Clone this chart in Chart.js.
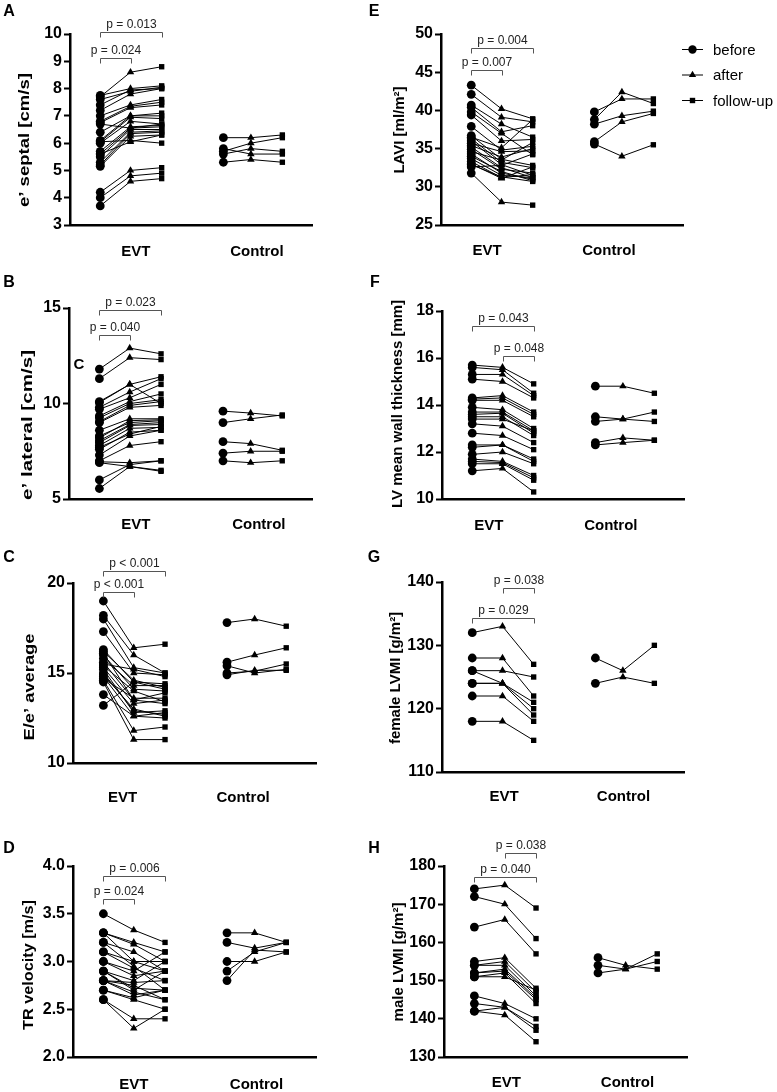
<!DOCTYPE html>
<html>
<head>
<meta charset="utf-8">
<title>Echo parameters before / after / follow-up</title>
<script src="https://cdn.jsdelivr.net/npm/chart.js@4.4.1/dist/chart.umd.min.js"></script>
<style>
  html, body { margin: 0; padding: 0; background: #fff; }
  body { width: 777px; height: 1092px; position: relative; overflow: hidden; }
  canvas { position: absolute; }
</style>
</head>
<body>
<script>
const groups = ['EVT', 'Control'];
const timepoints = ['before', 'after', 'follow-up'];
const pointStyles = ['circle', 'triangle', 'rect'];
const evtX = [1, 2, 3.03];
const ctrlX = [5.07, 5.98, 7.02];

// A - e' septal
const septalEvtBefore = [7.7, 7.75, 7.6, 7.4, 7.2, 7.0, 6.8, 6.75, 6.4, 6.1, 6.05, 6.0, 5.7, 5.6, 5.5, 5.3, 5.2, 5.15, 6.05, 5.6, 4.2, 4.0, 3.7, 6.7];
const septalEvtAfter = [8.6, 8.0, 7.9, 7.95, 7.8, 7.4, 7.35, 7.3, 7.0, 7.0, 6.95, 6.8, 6.6, 6.55, 6.5, 6.4, 6.35, 6.25, 6.1, 6.05, 5.0, 4.8, 4.6, 6.55];
const septalEvtFollow = [8.8, 8.1, 8.05, 8.0, 8.0, 7.6, 7.5, 7.4, 7.1, 7.0, 6.9, 6.7, 6.65, 6.6, 6.5, 6.45, 6.4, 6.3, 6.0, 6.3, 5.1, 4.9, 4.7, 6.7];
const septalCtrlBefore = [6.2, 5.7, 5.8, 5.6, 5.3];
const septalCtrlAfter = [6.2, 6.0, 5.6, 5.8, 5.4];
const septalCtrlFollow = [6.3, 6.2, 5.6, 5.7, 5.3];
const septalTicks = [3, 4, 5, 6, 7, 8, 9, 10];

// B - e' lateral
const lateralEvtBefore = [11.8, 11.3, 10.1, 10.05, 9.8, 9.7, 9.35, 9.25, 9.05, 9.0, 8.6, 8.3, 8.05, 7.95, 7.8, 7.6, 7.3, 7.0, 6.95, 6.0, 5.55, 8.2, 7.7, 6.9];
const lateralEvtAfter = [12.9, 12.4, 11.0, 11.0, 10.6, 10.3, 10.1, 10.0, 9.9, 9.8, 9.2, 9.0, 8.9, 8.85, 8.7, 8.5, 8.3, 7.8, 6.9, 6.8, 6.7, 9.1, 8.4, 6.7];
const lateralEvtFollow = [12.6, 12.3, 11.4, 10.0, 11.3, 11.0, 10.5, 10.2, 10.1, 9.9, 9.2, 9.1, 9.0, 8.9, 8.75, 8.6, 8.6, 8.0, 7.0, 7.0, 6.5, 9.15, 8.8, 6.45];
const lateralCtrlBefore = [9.6, 9.0, 8.0, 7.4, 7.0];
const lateralCtrlAfter = [9.5, 9.2, 7.9, 7.5, 6.9];
const lateralCtrlFollow = [9.35, 9.4, 7.55, 7.5, 7.0];
const lateralTicks = [5, 10, 15];

// C - E/e' average
const ratioEvtBefore = [19.0, 18.2, 18.0, 17.3, 16.3, 16.2, 16.0, 15.8, 15.6, 15.4, 15.3, 15.2, 15.0, 14.9, 14.8, 14.6, 14.5, 13.8, 13.2, 16.1, 15.5, 14.7];
const ratioEvtAfter = [16.4, 16.0, 15.3, 15.0, 14.5, 14.6, 14.1, 14.3, 13.5, 14.0, 13.3, 12.8, 12.9, 13.0, 12.6, 11.8, 11.3, 12.6, 14.5, 13.5, 15.2, 13.6];
const ratioEvtFollow = [16.6, 15.0, 15.0, 14.9, 14.4, 14.2, 14.0, 14.3, 13.9, 13.4, 13.5, 12.9, 12.7, 12.6, 12.8, 12.0, 11.3, 12.5, 14.1, 13.3, 14.8, 13.6];
const ratioCtrlBefore = [17.8, 15.6, 15.4, 15.0, 14.9];
const ratioCtrlAfter = [18.0, 16.0, 15.0, 15.1, 15.15];
const ratioCtrlFollow = [17.6, 16.4, 15.2, 15.5, 15.15];
const ratioTicks = [10, 15, 20];

// D - TR velocity
const trEvtBefore = [3.5, 3.3, 3.3, 3.2, 3.1, 3.1, 3.0, 3.0, 2.9, 2.9, 2.9, 2.8, 2.8, 2.8, 2.7, 2.7, 2.6, 2.6, 3.3, 3.2, 2.8];
const trEvtAfter = [3.33, 3.2, 3.18, 3.1, 3.0, 2.93, 2.9, 2.85, 2.8, 2.72, 2.7, 2.78, 2.68, 2.65, 2.6, 2.62, 2.4, 2.3, 3.0, 2.95, 2.75];
const trEvtFollow = [3.2, 3.1, 3.0, 2.9, 3.0, 2.8, 3.1, 2.9, 3.0, 2.7, 2.9, 2.8, 2.6, 2.7, 2.5, 2.7, 2.4, 2.5, 2.9, 2.7, 2.6];
const trCtrlBefore = [3.3, 3.2, 3.0, 2.9, 2.8];
const trCtrlAfter = [3.3, 3.14, 3.0, 3.1, 3.12];
const trCtrlFollow = [3.2, 3.2, 3.1, 3.2, 3.1];
const trTicks = [2.0, 2.5, 3.0, 3.5, 4.0];

// E - LAVI
const laviEvtBefore = [43.3, 42.1, 40.7, 40.4, 39.8, 39.4, 37.9, 36.7, 36.5, 36.3, 36.0, 35.7, 35.4, 35.2, 34.9, 34.6, 34.3, 34.0, 33.7, 33.3, 33.0, 32.6, 31.8, 32.9];
const laviEvtAfter = [40.2, 39.1, 38.2, 37.2, 37.0, 36.0, 34.8, 33.6, 35.1, 33.2, 32.9, 34.6, 33.9, 32.5, 32.3, 33.5, 31.8, 32.0, 31.5, 31.2, 31.1, 32.8, 28.0, 31.3];
const laviEvtFollow = [38.9, 38.5, 36.5, 38.0, 34.2, 36.2, 35.3, 32.8, 38.8, 32.5, 31.5, 34.7, 35.0, 31.2, 31.8, 35.8, 31.0, 30.8, 31.2, 31.6, 32.6, 34.3, 27.6, 30.7];
const laviCtrlBefore = [39.8, 38.8, 38.2, 35.9, 35.6];
const laviCtrlAfter = [41.5, 42.4, 39.3, 38.5, 34.0];
const laviCtrlFollow = [41.5, 40.9, 39.9, 39.6, 35.5];
const laviTicks = [25, 30, 35, 40, 45, 50];

// F - LV mean wall thickness
const wallEvtBefore = [15.7, 15.6, 15.3, 15.1, 14.3, 14.25, 14.2, 13.9, 13.7, 13.6, 13.5, 13.4, 13.2, 12.8, 12.3, 12.2, 11.9, 11.7, 11.6, 11.5, 11.2];
const wallEvtAfter = [15.6, 15.5, 15.3, 15.0, 14.4, 14.3, 14.2, 13.8, 13.7, 13.65, 13.5, 13.4, 13.1, 12.7, 12.3, 12.3, 12.0, 11.6, 11.55, 11.5, 11.3];
const wallEvtFollow = [14.9, 14.5, 14.4, 14.3, 13.7, 13.6, 13.5, 13.0, 12.9, 12.8, 12.7, 12.9, 12.4, 12.1, 11.7, 11.6, 11.5, 11.0, 10.9, 10.8, 10.3];
const wallCtrlBefore = [14.8, 13.5, 13.3, 12.4, 12.3];
const wallCtrlAfter = [14.8, 13.4, 13.4, 12.6, 12.4];
const wallCtrlFollow = [14.5, 13.3, 13.7, 12.5, 12.5];
const wallTicks = [10, 12, 14, 16, 18];

// G - female LVMI
const femaleEvtBefore = [132, 128, 126, 126, 124, 124, 122, 118];
const femaleEvtAfter = [133, 128, 126, 124, 124, 124, 122, 118];
const femaleEvtFollow = [127, 122, 125, 121, 120, 119, 118, 115];
const femaleCtrlBefore = [128, 124];
const femaleCtrlAfter = [126, 125];
const femaleCtrlFollow = [130, 124];
const femaleTicks = [110, 120, 130, 140];

// H - male LVMI
const maleEvtBefore = [174, 172, 164, 155, 154, 154, 152, 152, 151, 151, 146, 144, 142, 142];
const maleEvtAfter = [175, 170, 166, 156, 155, 154, 153, 152.5, 152, 151, 144, 143, 143, 141];
const maleEvtFollow = [169, 161, 157, 148, 147, 146, 145.5, 145, 144, 147.5, 140, 138, 137, 134];
const maleCtrlBefore = [156, 154, 152];
const maleCtrlAfter = [154, 153, 153];
const maleCtrlFollow = [153, 155, 157];
const maleTicks = [130, 140, 150, 160, 170, 180];

const FONT = 'Arial, "Liberation Sans", Helvetica, sans-serif';
Chart.defaults.font.family = FONT;
Chart.defaults.color = '#000';

// area = [left, top, right, bottom] of the plot box on the page
// titlePos = [centre x, centre y, stretched length or 0]
const panels = [
  { letter: 'A', letterPos: [9, 12], area: [70, 34, 312, 225], title: 'e’ septal [cm/s]', titlePos: [25, 140, 134],
    ticks: septalTicks, labelX: [2.18, 6.18], labelPad: 18,
    evt: [septalEvtBefore, septalEvtAfter, septalEvtFollow], ctrl: [septalCtrlBefore, septalCtrlAfter, septalCtrlFollow],
    brackets: [{ from: 0, to: 2, y: 10.07, text: 'p = 0.013' }, { from: 0, to: 1, y: 9.12, text: 'p = 0.024' }] },
  { letter: 'B', letterPos: [9, 283], area: [69, 308, 312, 499], title: 'e’ lateral [cm/s]', titlePos: [28, 425, 150],
    ticks: lateralTicks, labelX: [2.2, 6.25], labelPad: 17, extraText: { text: 'C', x: 79, y: 365 },
    evt: [lateralEvtBefore, lateralEvtAfter, lateralEvtFollow], ctrl: [lateralCtrlBefore, lateralCtrlAfter, lateralCtrlFollow],
    brackets: [{ from: 0, to: 2, y: 14.9, text: 'p = 0.023' }, { from: 0, to: 1, y: 13.59, text: 'p = 0.040' }] },
  { letter: 'C', letterPos: [9, 558], area: [73, 583, 316, 763], title: 'E/e’ average', titlePos: [30, 687, 107],
    ticks: ratioTicks, labelX: [1.63, 5.6], labelPad: 26,
    evt: [ratioEvtBefore, ratioEvtAfter, ratioEvtFollow], ctrl: [ratioCtrlBefore, ratioCtrlAfter, ratioCtrlFollow],
    brackets: [{ from: 0, to: 2, y: 20.68, text: 'p < 0.001' }, { from: 0, to: 1, y: 19.52, text: 'p < 0.001' }] },
  { letter: 'D', letterPos: [9, 849], area: [73, 866, 316, 1057], title: 'TR velocity [m/s]', titlePos: [29, 965, 130],
    ticks: trTicks, decimals: 1, labelX: [2.0, 6.04], labelPad: 19,
    evt: [trEvtBefore, trEvtAfter, trEvtFollow], ctrl: [trCtrlBefore, trCtrlAfter, trCtrlFollow],
    brackets: [{ from: 0, to: 2, y: 3.895, text: 'p = 0.006' }, { from: 0, to: 1, y: 3.654, text: 'p = 0.024' }] },
  { letter: 'E', letterPos: [374, 12], area: [441, 34, 683, 225], title: 'LAVI [ml/m²]', titlePos: [400, 130, 0],
    ticks: laviTicks, labelX: [1.52, 5.55], labelPad: 17, legend: true,
    evt: [laviEvtBefore, laviEvtAfter, laviEvtFollow], ctrl: [laviCtrlBefore, laviCtrlAfter, laviCtrlFollow],
    brackets: [{ from: 0, to: 2, y: 48.2, text: 'p = 0.004' }, { from: 0, to: 1, y: 45.29, text: 'p = 0.007' }] },
  { letter: 'F', letterPos: [375, 283], area: [442, 311, 684, 499], title: 'LV mean wall thickness [mm]', titlePos: [398, 404, 0],
    ticks: wallTicks, labelX: [1.55, 5.58], labelPad: 18,
    evt: [wallEvtBefore, wallEvtAfter, wallEvtFollow], ctrl: [wallCtrlBefore, wallCtrlAfter, wallCtrlFollow],
    brackets: [{ from: 0, to: 2, y: 17.36, text: 'p = 0.043' }, { from: 1, to: 2, y: 16.1, text: 'p = 0.048' }] },
  { letter: 'G', letterPos: [374, 558], area: [442, 582, 684, 772], title: 'female LVMI [g/m²]', titlePos: [396, 678, 0],
    ticks: femaleTicks, labelX: [2.05, 6.0], labelPad: 16,
    evt: [femaleEvtBefore, femaleEvtAfter, femaleEvtFollow], ctrl: [femaleCtrlBefore, femaleCtrlAfter, femaleCtrlFollow],
    brackets: [{ from: 1, to: 2, y: 139.07, text: 'p = 0.038' }, { from: 0, to: 2, y: 134.37, text: 'p = 0.029' }] },
  { letter: 'H', letterPos: [374, 849], area: [444, 866, 687, 1057], title: 'male LVMI [g/m²]', titlePos: [399, 962, 0],
    ticks: maleTicks, labelX: [2.05, 6.04], labelPad: 17,
    evt: [maleEvtBefore, maleEvtAfter, maleEvtFollow], ctrl: [maleCtrlBefore, maleCtrlAfter, maleCtrlFollow],
    brackets: [{ from: 1, to: 2, y: 183.3, text: 'p = 0.038' }, { from: 0, to: 2, y: 177.2, text: 'p = 0.040' }] }
];

function drawMarker(ctx, style, x, y) {
  ctx.beginPath();
  if (style === 'circle') {
    ctx.arc(x, y, 4.2, 0, Math.PI * 2);
  } else if (style === 'triangle') {
    ctx.moveTo(x, y - 4.2);
    ctx.lineTo(x + 3.64, y + 2.1);
    ctx.lineTo(x - 3.64, y + 2.1);
    ctx.closePath();
  } else {
    ctx.rect(x - 2.7, y - 2.7, 5.4, 5.4);
  }
  ctx.fill();
}

// y titles, significance brackets, panel letters and the side legend
const annotatePlugin = {
  id: 'annotate',
  afterDraw(chart, args, opts) {
    const ctx = chart.ctx;
    const xs = chart.scales.x, ys = chart.scales.y;
    const ox = opts.ox, oy = opts.oy;
    ctx.save();

    // axis title (drawn here so long titles are not squeezed to the axis height)
    ctx.save();
    ctx.translate(opts.titlePos[0] - ox, opts.titlePos[1] - oy);
    ctx.rotate(-Math.PI / 2);
    ctx.font = 'bold 15px ' + FONT;
    const w = ctx.measureText(opts.title).width;
    if (opts.titlePos[2]) ctx.scale(opts.titlePos[2] / w, 1);
    ctx.fillStyle = '#000';
    ctx.textAlign = 'center';
    ctx.textBaseline = 'middle';
    ctx.fillText(opts.title, 0, 0);
    ctx.restore();

    (opts.brackets || []).forEach(b => {
      const x1 = Math.round(xs.getPixelForValue(evtX[b.from])) + 0.5;
      const x2 = Math.round(xs.getPixelForValue(evtX[b.to])) + 0.5;
      const y = Math.round(ys.getPixelForValue(b.y)) + 0.5;
      ctx.strokeStyle = '#555';
      ctx.lineWidth = 1;
      ctx.beginPath();
      ctx.moveTo(x1, y + 5);
      ctx.lineTo(x1, y);
      ctx.lineTo(x2, y);
      ctx.lineTo(x2, y + 5);
      ctx.stroke();
      ctx.fillStyle = '#222';
      ctx.font = '12px ' + FONT;
      ctx.textAlign = 'center';
      ctx.textBaseline = 'alphabetic';
      ctx.fillText(b.text, (x1 + x2) / 2, y - 5);
    });

    ctx.fillStyle = '#000';
    ctx.textAlign = 'center';
    ctx.textBaseline = 'middle';
    ctx.font = 'bold 16px ' + FONT;
    ctx.fillText(opts.letter, opts.letterPos[0] - ox, opts.letterPos[1] - oy);
    if (opts.extraText) {
      ctx.font = 'bold 15px ' + FONT;
      ctx.fillText(opts.extraText.text, opts.extraText.x - ox, opts.extraText.y - oy);
    }

    if (opts.legend) {
      const rows = [49.5, 75, 100.5];
      ctx.font = '15px ' + FONT;
      ctx.textAlign = 'left';
      timepoints.forEach((t, i) => {
        const y = rows[i] - oy;
        ctx.strokeStyle = '#000';
        ctx.lineWidth = 1;
        ctx.beginPath();
        ctx.moveTo(682 - ox, y);
        ctx.lineTo(703 - ox, y);
        ctx.stroke();
        ctx.fillStyle = '#000';
        drawMarker(ctx, pointStyles[i], 692.5 - ox, y);
        ctx.fillText(t, 713 - ox, y + 1);
      });
    }
    ctx.restore();
  }
};

function subjectDatasets(series, xpos) {
  const sets = [];
  for (let i = 0; i < series[0].length; i++) {
    sets.push({
      data: series.map((s, k) => ({ x: xpos[k], y: s[i] })),
      showLine: true,
      borderColor: '#000',
      borderWidth: 1,
      backgroundColor: '#000',
      pointBackgroundColor: '#000',
      pointBorderWidth: 0,
      pointStyle: pointStyles,
      pointRadius: [4.4, 4.3, 3.8],
      clip: false
    });
  }
  return sets;
}

panels.forEach(p => {
  const [l, t, r, b] = p.area;
  const padRight = p.legend ? 777 - r : 12;
  const left0 = l - 80, top0 = t - 40;
  const cv = document.createElement('canvas');
  cv.width = r - l + 80 + padRight;
  cv.height = b - t + 40 + 40;
  cv.style.left = left0 + 'px';
  cv.style.top = top0 + 'px';
  document.body.appendChild(cv);

  const yMin = p.ticks[0], yMax = p.ticks[p.ticks.length - 1];

  new Chart(cv.getContext('2d'), {
    type: 'scatter',
    data: {
      datasets: subjectDatasets(p.evt, evtX).concat(subjectDatasets(p.ctrl, ctrlX))
    },
    plugins: [annotatePlugin],
    options: {
      responsive: false,
      animation: false,
      events: [],
      layout: { autoPadding: false, padding: { left: 10, top: 40, right: padRight, bottom: 0 } },
      scales: {
        x: {
          type: 'linear',
          min: 0,
          max: 8,
          afterFit: s => { s.height = 40; },
          afterBuildTicks: s => { s.ticks = p.labelX.map(v => ({ value: v })); },
          ticks: {
            autoSkip: false,
            maxRotation: 0,
            padding: p.labelPad,
            color: '#000',
            font: { size: 15, weight: 'bold' },
            callback: (v, i) => groups[i]
          },
          grid: { display: false, drawTicks: false },
          border: { display: true, color: '#000', width: 2.5 }
        },
        y: {
          type: 'linear',
          min: yMin,
          max: yMax,
          afterFit: s => { s.width = 70; },
          afterBuildTicks: s => { s.ticks = p.ticks.map(v => ({ value: v })); },
          ticks: {
            autoSkip: false,
            padding: 2,
            color: '#000',
            font: { size: 16, weight: 'bold' },
            callback: v => p.decimals ? v.toFixed(p.decimals) : v
          },
          grid: { display: true, drawOnChartArea: false, drawTicks: true, tickLength: 6, tickWidth: 2, tickColor: '#000' },
          border: { display: true, color: '#000', width: 2.5 },
          title: { display: false }
        }
      },
      plugins: {
        legend: { display: false },
        tooltip: { enabled: false },
        annotate: {
          ox: left0, oy: top0,
          title: p.title, titlePos: p.titlePos,
          brackets: p.brackets,
          letter: p.letter, letterPos: p.letterPos,
          extraText: p.extraText,
          legend: !!p.legend
        }
      }
    }
  });
});
</script>
</body>
</html>
